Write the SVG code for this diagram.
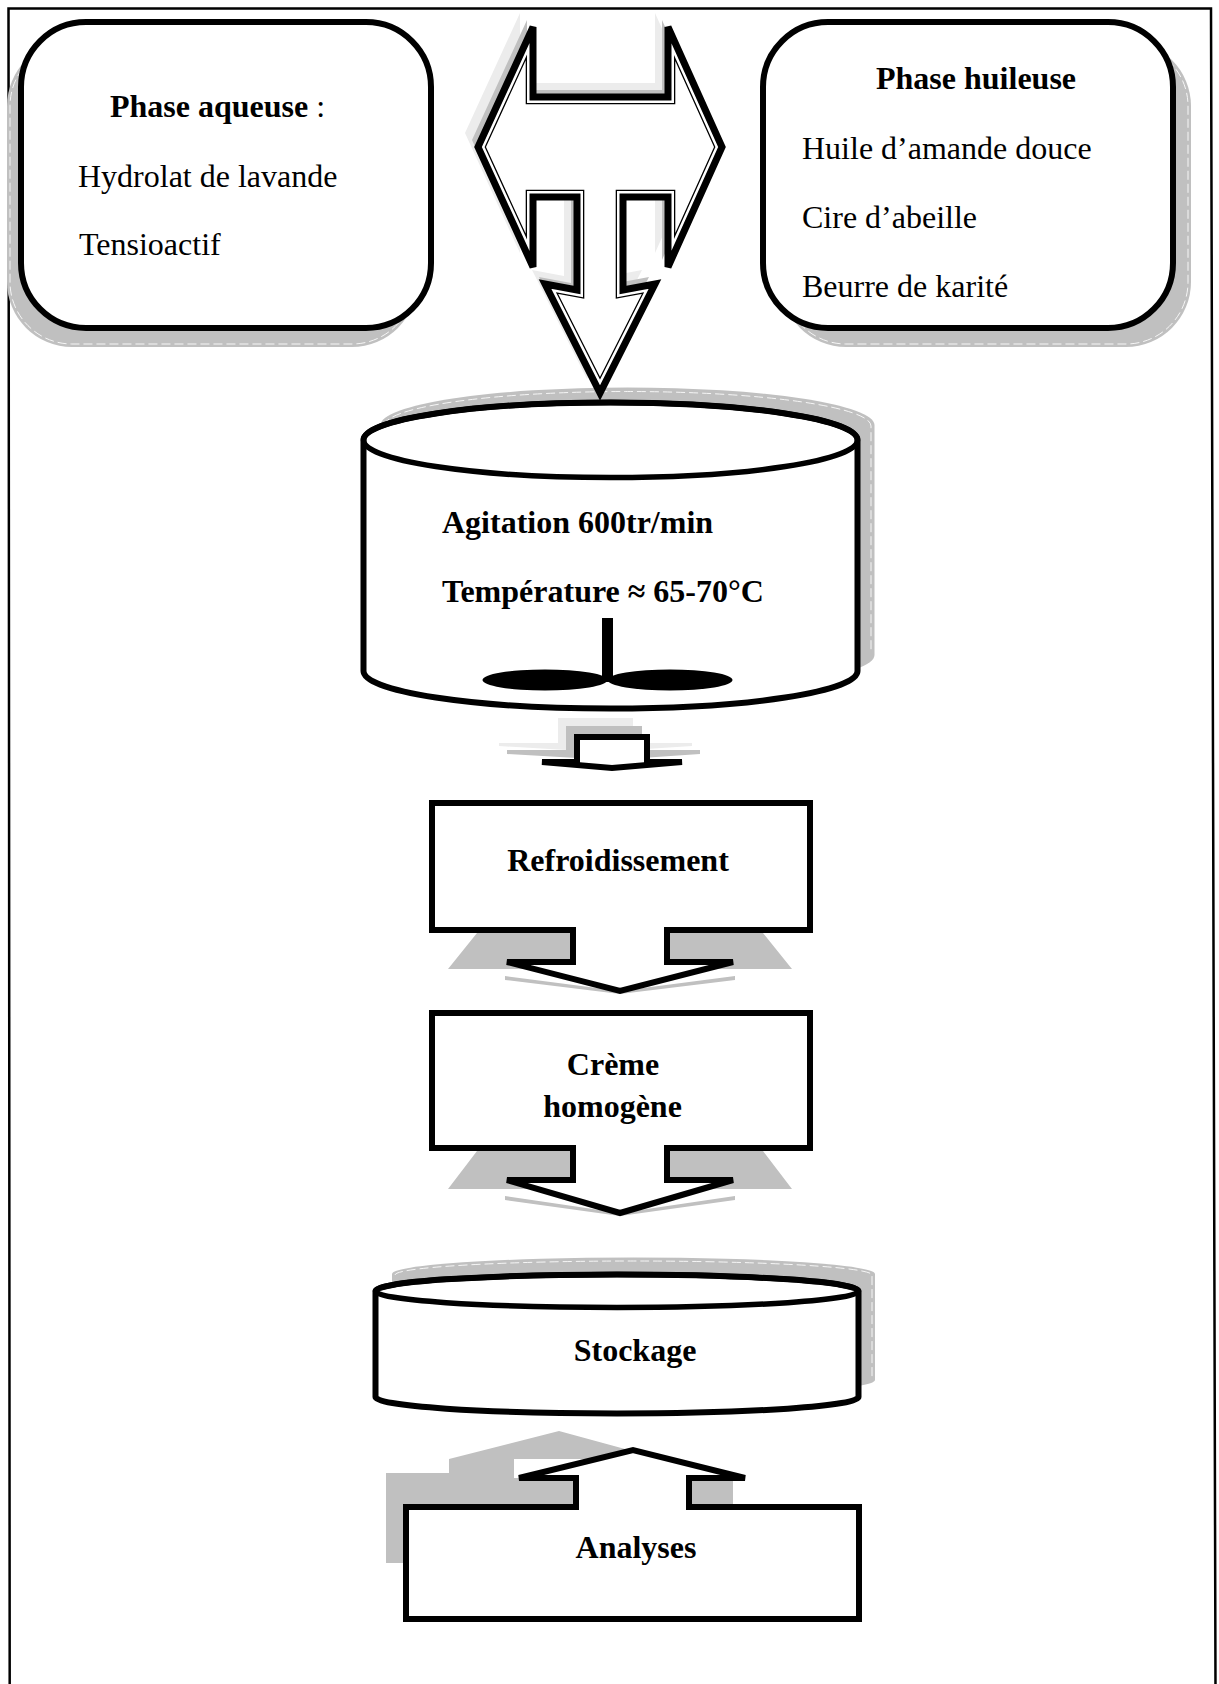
<svg xmlns="http://www.w3.org/2000/svg" xmlns:xlink="http://www.w3.org/1999/xlink" width="1219" height="1684" viewBox="0 0 1219 1684">
<style>
.t{font-family:"Liberation Serif","Times New Roman",serif;font-size:32px;fill:#000}
.b{font-weight:bold}
.sh{fill:#c0c0c0}
.shl{fill:#ececec}
.ol{fill:#fff;stroke:#000;stroke-width:6;stroke-linejoin:miter}
.dash{fill:none;stroke:#f6f6f6;stroke-width:1;stroke-dasharray:9 4}
</style>
<defs>
<path id="bigArrow" d="M533 27 V97 H668 V27 L722 147 L668 267 V197 H623 V290 L655 284 L600 393 L545 284 L577 290 V197 H533 V267 L478 147 Z"/>
<clipPath id="bigArrowClip"><use href="#bigArrow"/></clipPath>
</defs>
<rect width="1219" height="1684" fill="#fff"/>
<path d="M9.7 1690 L8.5 8.5 L1211 8.5 L1215.5 1690" fill="none" stroke="#000" stroke-width="2.5"/>

<g id="phase-aqueuse">
<rect class="sh" x="7" y="41" width="410" height="306" rx="65"/>
<rect class="dash" x="10" y="44" width="404" height="300" rx="62"/>
<rect class="ol" x="21" y="22" width="410" height="306" rx="65" stroke-width="5.5"/>
<text class="t" x="110" y="117"><tspan class="b">Phase aqueuse</tspan> :</text>
<text class="t" x="78" y="187">Hydrolat de lavande</text>
<text class="t" x="79" y="255">Tensioactif</text>
</g>

<g id="phase-huileuse">
<rect class="sh" x="781" y="41" width="410" height="306" rx="65"/>
<rect class="dash" x="784" y="44" width="404" height="300" rx="62"/>
<rect class="ol" x="763" y="22" width="410" height="306" rx="65" stroke-width="5.5"/>
<text class="t b" x="876" y="89">Phase huileuse</text>
<text class="t" x="802" y="159">Huile d’amande douce</text>
<text class="t" x="802" y="228">Cire d’abeille</text>
<text class="t" x="802" y="297">Beurre de karité</text>
</g>

<g id="agitation">
<path class="sh" d="M380.5 425 A247 37.5 0 0 1 874.5 425 V655 A247 37.5 0 0 1 380.5 655 Z"/>
<path class="dash" d="M384 426 A243.5 34.5 0 0 1 871 426 V652"/>
<path class="ol" stroke-width="5.5" d="M363.5 440 A247 37.5 0 0 1 857.5 440 V671 A247 37.5 0 0 1 363.5 671 Z"/>
<ellipse cx="610.5" cy="440" rx="247" ry="37.5" fill="none" stroke="#000" stroke-width="5.5"/>
<text class="t b" x="442" y="533">Agitation 600tr/min</text>
<text class="t b" x="442" y="602">Température ≈ 65-70°C</text>
<rect x="602" y="618" width="11" height="64" fill="#000"/>
<ellipse cx="545" cy="680" rx="62.5" ry="10.5" fill="#000"/>
<ellipse cx="670" cy="680" rx="62.5" ry="10.5" fill="#000"/>
</g>

<g id="refroidissement">
<path class="sh" d="M477 933 H763 L792 969 H448 Z M505 976 L620 991 L735 976 L735 980 L620 994 L505 980 Z"/>
<path class="ol" d="M432 803 H810 V930 H667 V962 H733 L620 991 L507 962 H573 V930 H432 Z"/>
<text class="t b" x="618" y="871" text-anchor="middle">Refroidissement</text>
</g>

<g id="creme-homogene">
<path class="sh" d="M477 1151 H763 L792 1189 H448 Z M505 1196 L620 1213 L735 1196 L735 1200 L620 1216 L505 1200 Z"/>
<path class="ol" d="M432 1013 H810 V1148 H667 V1180 H733 L620 1213 L507 1180 H573 V1148 H432 Z"/>
<text class="t b" x="613" y="1075" text-anchor="middle">Crème</text>
<text class="t b" x="612.5" y="1117" text-anchor="middle">homogène</text>
</g>

<g id="stockage">
<path class="sh" d="M392 1274 A241.5 16.5 0 0 1 875 1274 V1380 A241.5 16.5 0 0 1 392 1380 Z"/>
<path class="dash" d="M395 1275 A238.5 14 0 0 1 872 1275 V1377"/>
<path class="ol" stroke-width="5.5" d="M375.5 1291 A241.5 16.5 0 0 1 858.5 1291 V1397 A241.5 16.5 0 0 1 375.5 1397 Z"/>
<ellipse cx="617" cy="1291" rx="241.5" ry="16.5" fill="none" stroke="#000" stroke-width="5.5"/>
<text class="t b" x="635" y="1361" text-anchor="middle">Stockage</text>
</g>

<g id="analyses">
<path class="sh" d="M386 1563 V1473 H449 V1459 L559 1431 L636 1452 L600 1459 H514 V1478 H576 V1510 H406 V1563 Z M692 1480 H733 V1510 H692 Z"/>
<path class="ol" d="M406 1619 V1507 H576 V1478 H519 L633 1450 L745 1478 H689 V1507 H859 V1619 Z"/>
<text class="t b" x="636" y="1558" text-anchor="middle">Analyses</text>
</g>

<g id="connectors">
<g id="merge-arrow">
<use href="#bigArrow" transform="translate(-13,-14)" fill="#ececec"/>
<use href="#bigArrow" transform="translate(-6,-7)" fill="#c0c0c0"/>
<use href="#bigArrow" fill="#fff"/>
<g clip-path="url(#bigArrowClip)">
<use href="#bigArrow" fill="none" stroke="#000" stroke-width="14.6"/>
<use href="#bigArrow" fill="none" stroke="#fff" stroke-width="12"/>
</g>
<use href="#bigArrow" fill="none" stroke="#000" stroke-width="7" stroke-miterlimit="3"/>
</g>
<g id="arrow-agitation-refroidissement">
<path class="shl" d="M558 718 H633 V743 H692 V746 L600 752 L499 746 V743 H558 Z"/>
<path class="sh" d="M566 726 H642 V750 H700 V754 L612 760 L507 754 V750 H566 Z"/>
<path class="ol" d="M577 737 H647 V762 H682 L612 768 L542 762 H577 Z"/>
</g>
</g>
</svg>
